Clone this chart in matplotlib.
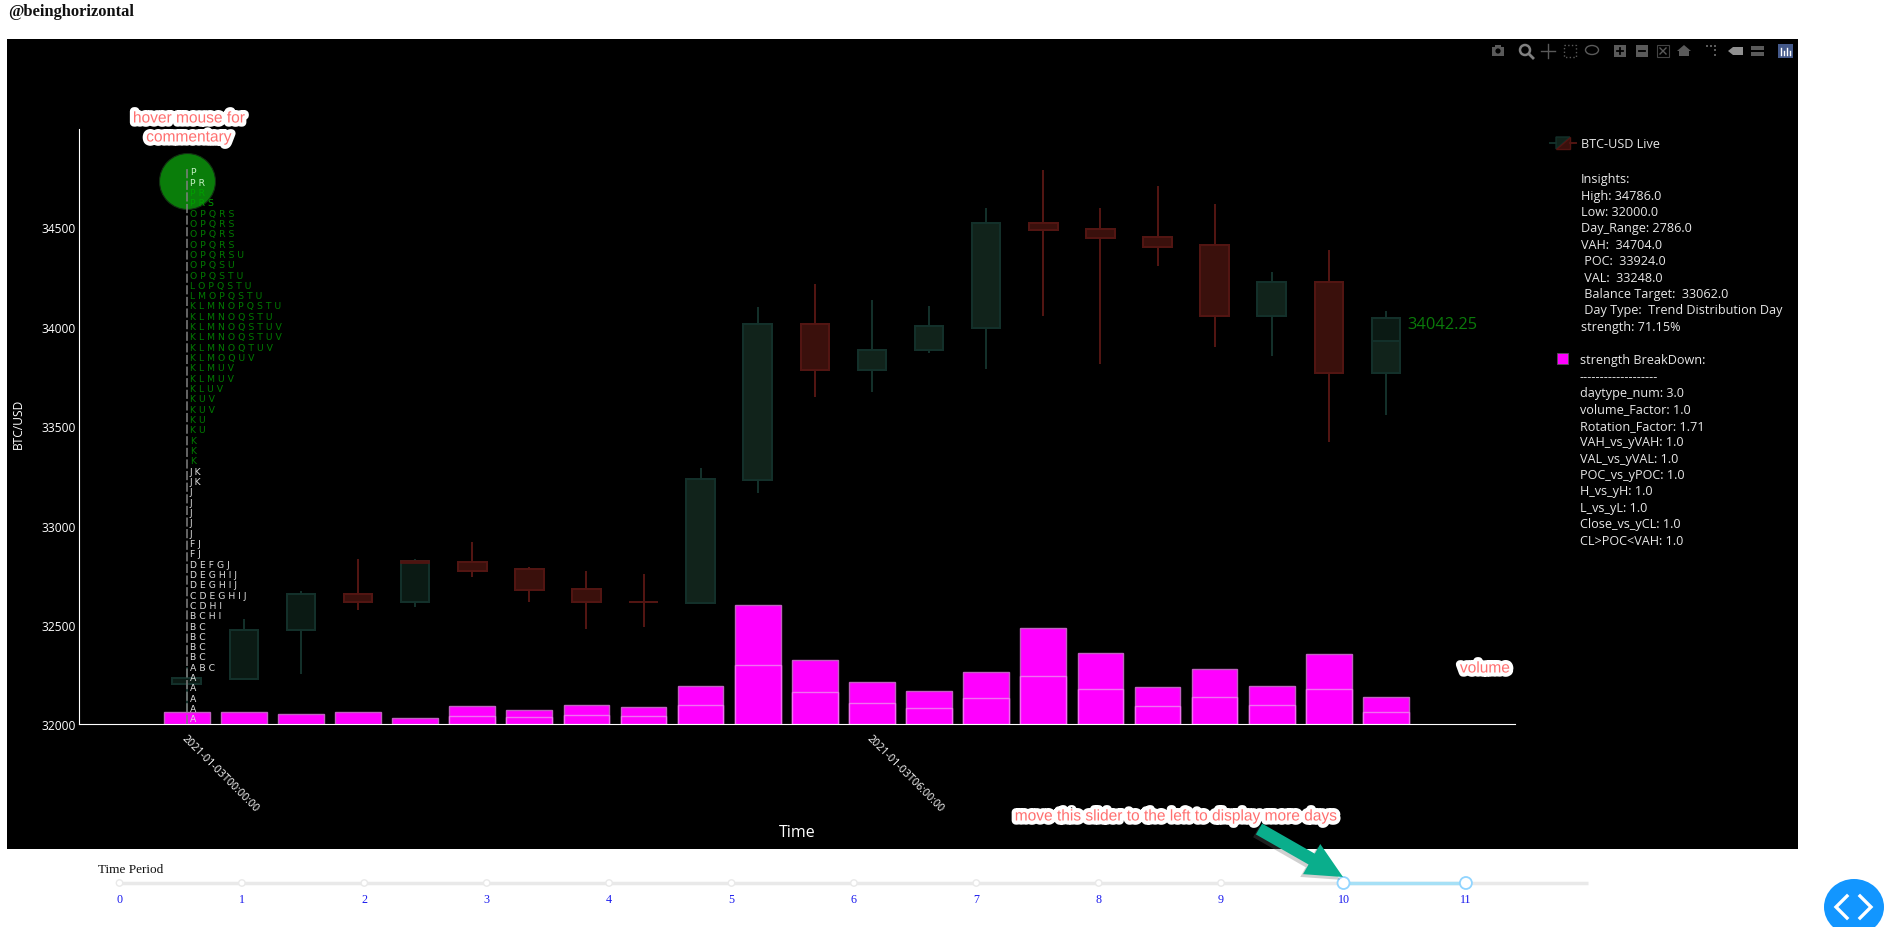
import matplotlib
matplotlib.use("Agg")
import matplotlib.pyplot as plt
import matplotlib.patheffects as pe
from matplotlib.patches import Rectangle, Circle, Ellipse, FancyArrowPatch, Polygon

# ---------- data ----------
opens  = [32201,32226,32473,32657,32615,32818,32783,32683,32613,32610,33230,34016,33781,33881,33993,34521,34493,34450,34409,34055,34226,33767]
closes = [32231,32474,32657,32615,32821,32771,32674,32615,32613,33236,34016,33781,33884,34003,34521,34485,34445,34401,34054,34226,33767,34045]
highs  = [32288,32532,32669,32830,32831,32918,32789,32771,32754,33290,34100,34216,34134,34105,34599,34787,34600,34706,34617,34274,34386,34077]
lows   = [32062,32226,32251,32573,32591,32741,32615,32480,32489,32610,33164,33648,33670,33866,33787,34054,33814,34304,33899,33851,33422,33558]
live_open, live_close, live_high, live_low = 33767, 33930, 33993, 33767
live_x = 21
overlay_x, overlay_open, overlay_close = 4, 32821, 32811
volume = [64,60,54,62,34,91,74,97,89,193,599,322,215,168,265,483,361,190,280,195,356,137]
volume_part = [0,0,0,0,0,44,35,49,42,96,298,161,107,84,132,241,180,94,139,97,178,60]
x_ticks = [0, 12]
x_tick_labels = ["2021-01-03T00:00:00", "2021-01-03T06:00:00"]
y_ticks = [32000, 32500, 33000, 33500, 34000, 34500]
tpo_prices = [32027,32079,32131,32183,32235,32287,32339,32391,32443,32494,32546,32598,32650,32702,32754,32806,32858,32910,
              32962,33014,33066,33118,33170,33222,33274,33326,33377,33429,33481,33533,33585,33637,33689,33741,33793,33845,
              33897,33949,34001,34053,34105,34157,34209,34260,34312,34364,34416,34468,34520,34572,34624,34676,34728,34780]
tpo_rows = ["A","A","A","A","A","A B C","B C","B C","B C","B C","B C H I","C D H I","C D E G H I J","D E G H I J","D E G H I J",
            "D E F G J","F J","F J","J","J","J","J","J","J K","J K","K","K","K","K U","K U","K U V","K U V","K L U V","K L M U V",
            "K L M U V","K L M O Q U V","K L M N O Q T U V","K L M N O Q S T U V","K L M N O Q S T U V","K L M N O Q S T U",
            "K L M N O P Q S T U","L M O P Q S T U","L O P Q S T U","O P Q S T U","O P Q S U","O P Q R S U","O P Q R S","O P Q R S",
            "O P Q R S","O P Q R S","P R S","P R","P R","P"]
poc_marker_price = 34733
last_price = 34042.25
legend_insights = ["Insights:", "High: 34786.0", "Low: 32000.0", "Day_Range: 2786.0", "VAH:  34704.0", " POC:  33924.0",
                   " VAL:  33248.0", " Balance Target:  33062.0", " Day Type:  Trend Distribution Day", "strength: 71.15%"]
legend_strength = ["strength BreakDown:", "-------------------", "daytype_num: 3.0", "volume_Factor: 1.0", "Rotation_Factor: 1.71",
                   "VAH_vs_yVAH: 1.0", "VAL_vs_yVAL: 1.0", "POC_vs_yPOC: 1.0", "H_vs_yH: 1.0", "L_vs_yL: 1.0",
                   "Close_vs_yCL: 1.0", "CL>POC<VAH: 1.0"]
slider_labels = ["0","1","2","3","4","5","6","7","8","9","10","11"]

W, H = 1884, 928
SANS = "Open Sans"; ARIAL = "Liberation Sans"; SERIF = "Liberation Serif"
def pt(px): return px * 0.72

fig = plt.figure(figsize=(W/100, H/100), dpi=100, facecolor="white")

bg = fig.add_axes([0, 0, 1, 1], zorder=0)
bg.set_xlim(0, W); bg.set_ylim(H, 0); bg.axis("off")
bg.add_patch(Rectangle((7, 40), 1791, 810, fc="black", ec="none"))

# ---------- main chart ----------
AX_L, AX_R, AX_T, AX_B = 78.7, 1515, 130, 725.3
ax = fig.add_axes([AX_L/W, 1-AX_B/H, (AX_R-AX_L)/W, (AX_B-AX_T)/H], zorder=1)
ax.set_facecolor("none")
ax.set_xlim(-1.891, 23.26)
ax.set_ylim(32000, 34995)
for s in ("top", "right"):
    ax.spines[s].set_visible(False)
for s in ("left", "bottom"):
    ax.spines[s].set_color("white"); ax.spines[s].set_linewidth(0.8)
ax.set_yticks(y_ticks)
ax.set_yticklabels([str(v) for v in y_ticks], family=SANS, fontsize=pt(12), color="white")
ax.set_xticks(x_ticks)
ax.set_xticklabels(x_tick_labels, family=SANS, fontsize=pt(10.8), color="white", rotation=-45,
                   ha="left", va="top", rotation_mode="anchor")
ax.tick_params(axis="both", length=0)
ax.tick_params(axis="y", pad=2)
ax.tick_params(axis="x", pad=6)

xs = list(range(len(opens)))
def candle(x, o, c, h, l, fill, edge):
    ax.vlines(x, l, h, color=edge, lw=1.45, zorder=2)
    ax.bar(x, abs(c-o), bottom=min(o, c), width=0.5, facecolor=fill, edgecolor=edge, linewidth=1.45, zorder=3)

for x, o, c, h, l in zip(xs, opens, closes, highs, lows):
    if c > o:
        candle(x, o, c, h, l, "#0b1a14" if x < 9 or x == 21 else "#11231b", "#13302a")
    else:
        candle(x, o, c, h, l, "#3a100c", "#521512")
candle(live_x, live_open, live_close, live_high, live_low, "#11231b", "#13302a")
ax.bar(overlay_x, overlay_open - overlay_close, bottom=overlay_close, width=0.5, facecolor="#3a100c",
       edgecolor="#521512", linewidth=1.2, zorder=3.1)

ax.bar(xs, volume, bottom=32000, width=0.8, facecolor="#ff00ff", edgecolor="#c060c0", linewidth=1.0, zorder=4)
ax.bar(xs, volume_part, bottom=32000, width=0.8, facecolor="#ff00ff", edgecolor="#f070f0",
       linewidth=[1.0 if v else 0 for v in volume_part], zorder=4.1)

ax.vlines(0, 32000, tpo_prices[-1] + 20, color="#808080", lw=1.1, linestyles=(0, (6, 1.6)), zorder=5)
ax.scatter([0], [poc_marker_price], s=pt(56)**2, c="#0a7d0a", edgecolors="#123012", linewidths=0.8, zorder=1.5, clip_on=False)

for i, (p, row) in enumerate(zip(tpo_prices, tpo_rows)):
    n = len(tpo_rows) - i
    col = "#dddddd" if i < 25 else "#007a00"
    if n <= 2:
        col = "#c4f0c4"
    elif n <= 4:
        col = "#00a000"
    ax.text(0.055, p, row, family="DejaVu Sans", fontsize=pt(9.3), color=col, ha="left", va="center", zorder=6)

ax.text(21.37, last_price - 30, f"{last_price:.2f}", family=SANS, fontsize=pt(16.4), color="#0a7a0a", ha="left", va="center", zorder=6)

# ---------- overlay in page pixels ----------
ov = fig.add_axes([0, 0, 1, 1], zorder=2)
ov.set_xlim(0, W); ov.set_ylim(H, 0); ov.axis("off"); ov.set_facecolor("none")

ov.text(8, 12, "@beinghorizontal", family=SERIF, fontweight="bold", fontsize=pt(16.5), color="#111111", va="center")
ov.text(18, 424, "BTC/USD", family=SANS, fontsize=pt(12), color="white", rotation=90, ha="center", va="center")
ov.text(797, 833, "Time", family=SANS, fontsize=pt(16), color="white", ha="center", va="center")

halo = [pe.withStroke(linewidth=6, foreground="white")]
def note(x, y, s):
    ov.text(x, y, s, family=ARIAL, fontsize=pt(15.5), color="#ff6f6f", ha="center", va="center", path_effects=halo)
note(189, 119, "hover mouse for")
note(189, 138, "commentary")
note(1485, 669, "volume")
note(1176, 817, "move this slider to the left to display more days")

# legend
ov.plot([1550, 1556], [144, 144], color="#13302a", lw=1.4)
ov.plot([1570, 1576], [144, 144], color="#521512", lw=1.4)
ov.add_patch(Polygon([(1556, 138), (1570, 138), (1556, 150)], fc="#11231b", ec="#13302a", lw=1))
ov.add_patch(Polygon([(1570, 138), (1570, 150), (1556, 150)], fc="#3a100c", ec="#521512", lw=1))
LEG = dict(family=SANS, fontsize=pt(12.6), color="#e8e8e8", va="center", ha="left")
ov.text(1581, 144, "BTC-USD Live", **LEG)
for i, s in enumerate(legend_insights):
    ov.text(1581, 179.7 + 16.4*i, s, **LEG)
ov.add_patch(Rectangle((1557, 354), 11, 11, fc="#ff00ff", ec="#555555", lw=0.6))
for i, s in enumerate(legend_strength):
    ov.text(1580, 360.7 + 16.4*i, s, **LEG)

# modebar
G = "#5a5a5a"
cy = 52
ov.add_patch(Rectangle((1492, cy-4), 12, 9, fc=G, ec="none"))
ov.add_patch(Rectangle((1495, cy-6), 6, 3, fc=G, ec="none"))
ov.add_patch(Circle((1498, cy), 2.6, fc="black", ec="none"))
ov.add_patch(Circle((1525, cy-1), 5, fc="black", ec="#808080", lw=1.8))
ov.plot([1529, 1533], [cy+3, cy+7], color="#808080", lw=2)
ov.plot([1541, 1555], [cy, cy], color=G, lw=1.0); ov.plot([1548, 1548], [cy-7, cy+7], color=G, lw=1.0)
ov.add_patch(Rectangle((1564, cy-6), 12, 12, fc="none", ec=G, lw=1, ls=":"))
ov.add_patch(Ellipse((1592, cy-1), 13, 9, fc="none", ec=G, lw=1))
ov.add_patch(Rectangle((1614, cy-6), 12, 12, fc=G, ec="none"))
ov.plot([1617, 1623], [cy, cy], color="black", lw=1.3); ov.plot([1620, 1620], [cy-3, cy+3], color="black", lw=1.3)
ov.add_patch(Rectangle((1636, cy-6), 12, 12, fc=G, ec="none"))
ov.plot([1639, 1645], [cy, cy], color="black", lw=1.3)
ov.add_patch(Rectangle((1657, cy-6), 12, 12, fc="none", ec="#444444", lw=0.8))
ov.plot([1660, 1666], [cy-3, cy+3], color=G, lw=1); ov.plot([1660, 1666], [cy+3, cy-3], color=G, lw=1)
ov.add_patch(Polygon([(1684, cy-6), (1691, cy), (1689, cy), (1689, cy+5), (1679, cy+5), (1679, cy), (1677, cy)], fc=G, ec="none"))
ov.scatter([1707, 1711, 1715, 1715, 1715], [cy-5, cy-5, cy-5, cy-1, cy+4], s=2.5, c=G, marker="s", linewidths=0)
ov.add_patch(Polygon([(1728, cy), (1733, cy-4), (1743, cy-4), (1743, cy+4), (1733, cy+4)], fc="#909090", ec="none"))
ov.add_patch(Rectangle((1751, cy-5), 13, 4, fc=G, ec="none")); ov.add_patch(Rectangle((1751, cy+1), 13, 4, fc=G, ec="none"))
ov.add_patch(Rectangle((1778, cy-7), 15, 14, fc="#44598a", ec="none"))
for dx, top in zip((1781, 1784, 1787, 1790), (-3, 0, -3, 0)):
    ov.plot([dx, dx], [cy+top, cy+4], color="white", lw=1)

# slider
TR_Y = 884
TICK0, STEP = 119.5, 122.4
ov.plot([TICK0, 1588], [TR_Y, TR_Y], color="#e9e9e9", lw=2.5, solid_capstyle="butt", zorder=3)
ov.plot([TICK0 + STEP*10, TICK0 + STEP*11], [TR_Y, TR_Y], color="#a6e0f6", lw=2.5, solid_capstyle="butt", zorder=4)
for i, s in enumerate(slider_labels):
    x = TICK0 + STEP*i
    if i < 10:
        ov.add_patch(Circle((x, TR_Y), 3.2, fc="white", ec="#e9e9e9", lw=1, zorder=5))
    else:
        ov.add_patch(Circle((x, TR_Y), 6, fc="white", ec="#91d5ff", lw=1.3, zorder=5))
    ov.text(x, 900, s, family=SERIF, fontsize=pt(12), color="#1a1aee", ha="center", va="center")
ov.text(98, 870, "Time Period", family=SERIF, fontsize=pt(13.3), color="#111111", ha="left", va="center")

# green arrow
arrow = FancyArrowPatch((1259, 830), (1343, 878), arrowstyle="simple,head_width=25,head_length=26,tail_width=9",
                        mutation_scale=1, fc="#0aae8c", ec="none", shrinkA=0, shrinkB=0, zorder=6,
                        path_effects=[pe.SimplePatchShadow(offset=(-2, -2), shadow_rgbFace="#666666", alpha=0.3), pe.Normal()])
ov.add_patch(arrow)

# code toggle button
ov.add_patch(Ellipse((1854, 908), 60, 56, fc="#1296ff", ec="none", zorder=6))
ov.plot([1847, 1836, 1847], [897, 908, 919], color="white", lw=2.4, zorder=7, solid_joinstyle="miter")
ov.plot([1860, 1871, 1860], [897, 908, 919], color="white", lw=2.4, zorder=7, solid_joinstyle="miter")

fig.savefig("out.png", dpi=100, facecolor="white")
